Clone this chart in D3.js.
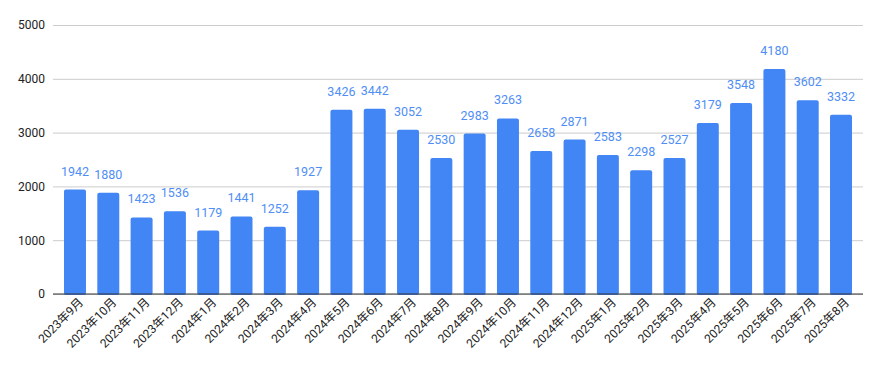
<!DOCTYPE html>
<html lang="ja">
<head>
  <meta charset="UTF-8">
  <script src="https://d3js.org/d3.v7.min.js"></script>
  <title>月別件数</title>
  <style>
    body { margin: 0; background: #fff; }
    text { font-family: Roboto, "Noto Sans CJK JP", sans-serif; }
  </style>
</head>
<body>
  <div id="chart"></div>
  <script>
    const months = [
      '2023年9月', '2023年10月', '2023年11月', '2023年12月',
      '2024年1月', '2024年2月', '2024年3月', '2024年4月', '2024年5月', '2024年6月',
      '2024年7月', '2024年8月', '2024年9月', '2024年10月', '2024年11月', '2024年12月',
      '2025年1月', '2025年2月', '2025年3月', '2025年4月', '2025年5月', '2025年6月',
      '2025年7月', '2025年8月'
    ];
    const counts = [
      1942, 1880, 1423, 1536, 1179, 1441, 1252, 1927, 3426, 3442, 3052, 2530,
      2983, 3263, 2658, 2871, 2583, 2298, 2527, 3179, 3548, 4180, 3602, 3332
    ];
    const yTicks = [0, 1000, 2000, 3000, 4000, 5000];

    const width = 882, height = 371;
    const plotLeft = 53, plotRight = 863, plotTop = 25, plotBottom = 294;

    const svg = d3.select('#chart')
      .append('svg')
      .attr('width', width)
      .attr('height', height);

    const x = d3.scaleBand()
      .domain(months)
      .range([plotLeft, plotRight])
      .paddingInner(0.34)
      .paddingOuter(0.33);

    const y = d3.scaleLinear()
      .domain([0, 5000])
      .range([plotBottom, plotTop]);

    // gridlines + y labels
    const yAxis = d3.axisLeft(y)
      .tickValues(yTicks)
      .tickFormat(d3.format('d'))
      .tickSize(-(plotRight - plotLeft))
      .tickPadding(8);

    const gy = svg.append('g')
      .attr('transform', `translate(${plotLeft},0)`)
      .call(yAxis);
    gy.select('.domain').remove();
    gy.selectAll('.tick line').attr('stroke', '#cccccc');
    gy.selectAll('.tick text')
      .attr('font-size', 12)
      .attr('fill', '#222');

    // bars
    svg.selectAll('rect.bar')
      .data(counts)
      .enter()
      .append('rect')
      .attr('class', 'bar')
      .attr('x', (d, i) => x(months[i]))
      .attr('y', d => y(d))
      .attr('width', x.bandwidth())
      .attr('height', d => y(0) - y(d) + 1)
      .attr('rx', 2)
      .attr('fill', '#4285f4');

    // value labels
    svg.selectAll('text.val')
      .data(counts)
      .enter()
      .append('text')
      .attr('class', 'val')
      .attr('x', (d, i) => x(months[i]) + x.bandwidth() / 2)
      .attr('y', d => y(d) - 14)
      .attr('text-anchor', 'middle')
      .attr('font-size', 12.5)
      .attr('fill', '#4f8ef5')
      .text(d => d);

    // x axis
    const gx = svg.append('g')
      .attr('transform', `translate(0,${plotBottom})`)
      .call(d3.axisBottom(x).tickSize(0).tickPadding(0));
    gx.select('.domain').attr('stroke', '#333').attr('d', `M${plotLeft},0H${plotRight}`);
    gx.selectAll('.tick text')
      .attr('font-size', 12)
      .attr('fill', '#222')
      .attr('text-anchor', 'end')
      .attr('dy', null)
      .attr('transform', 'translate(9,9) rotate(-45)');
  </script>
</body>
</html>
